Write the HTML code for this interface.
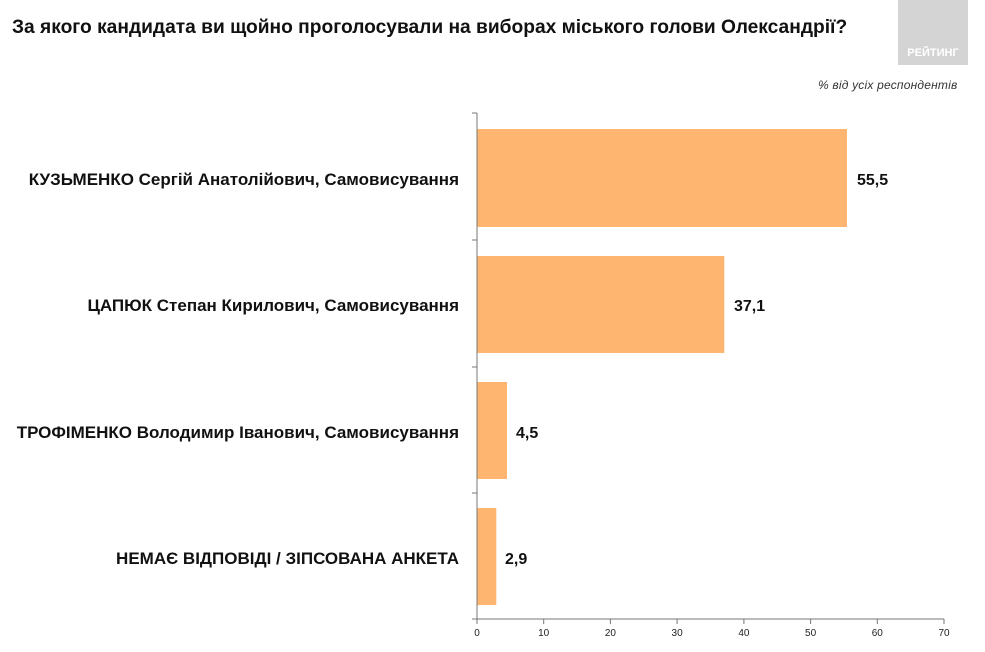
<!DOCTYPE html><html><head><meta charset="utf-8"><style>
body{margin:0;width:985px;height:652px;background:#fff;overflow:hidden;font-family:"Liberation Sans",sans-serif;position:relative}
.t{position:absolute;white-space:nowrap}
</style></head><body>
<div class="t" style="left:12px;top:17px;font-size:19.2px;font-weight:bold;color:#111">За якого кандидата ви щойно проголосували на виборах міського голови Олександрії?</div>
<div style="position:absolute;left:898px;top:0;width:70px;height:65px;background:#d4d4d4"></div>
<div class="t" style="left:898px;top:47px;width:70px;text-align:center;font-size:11px;font-weight:bold;color:#fff">РЕЙТИНГ</div>
<div class="t" style="left:818px;top:78px;font-size:12px;font-style:italic;color:#333;letter-spacing:0.2px">% від усіх респондентів</div>
<svg width="985" height="652" style="position:absolute;left:0;top:0" font-family="Liberation Sans, sans-serif">
<g fill="#fdb56f">
<rect x="477" y="129" width="370" height="98"/>
<rect x="477" y="256" width="247.3" height="97"/>
<rect x="477" y="382" width="30" height="97"/>
<rect x="477" y="508" width="19.3" height="97"/>
</g>
<g stroke="#777" stroke-width="1" fill="none">
<line x1="477" y1="113" x2="477" y2="619"/>
<line x1="472" y1="619" x2="944" y2="619"/>
<line x1="472" y1="113" x2="477" y2="113"/>
<line x1="472" y1="240" x2="477" y2="240"/>
<line x1="472" y1="367" x2="477" y2="367"/>
<line x1="472" y1="493" x2="477" y2="493"/>
<g>
<line x1="477" y1="619" x2="477" y2="624"/><line x1="543.7" y1="619" x2="543.7" y2="624"/><line x1="610.4" y1="619" x2="610.4" y2="624"/><line x1="677.1" y1="619" x2="677.1" y2="624"/><line x1="743.9" y1="619" x2="743.9" y2="624"/><line x1="810.6" y1="619" x2="810.6" y2="624"/><line x1="877.3" y1="619" x2="877.3" y2="624"/><line x1="944" y1="619" x2="944" y2="624"/>
</g></g>
<g font-size="10" fill="#222" text-anchor="middle">
<text x="477" y="636">0</text><text x="543.7" y="636">10</text><text x="610.4" y="636">20</text><text x="677.1" y="636">30</text><text x="743.9" y="636">40</text><text x="810.6" y="636">50</text><text x="877.3" y="636">60</text><text x="944" y="636">70</text>
</g>
<g font-size="16" font-weight="bold" fill="#111">
<text x="857" y="185">55,5</text>
<text x="734" y="311">37,1</text>
<text x="516" y="438">4,5</text>
<text x="505" y="564">2,9</text>
</g>
<g font-size="17" font-weight="bold" fill="#111" text-anchor="end">
<text x="459" y="185">КУЗЬМЕНКО Сергій Анатолійович, Самовисування</text>
<text x="459" y="311">ЦАПЮК Степан Кирилович, Самовисування</text>
<text x="459" y="438">ТРОФІМЕНКО Володимир Іванович, Самовисування</text>
<text x="459" y="564">НЕМАЄ ВІДПОВІДІ / ЗІПСОВАНА АНКЕТА</text>
</g>
</svg>
</body></html>
